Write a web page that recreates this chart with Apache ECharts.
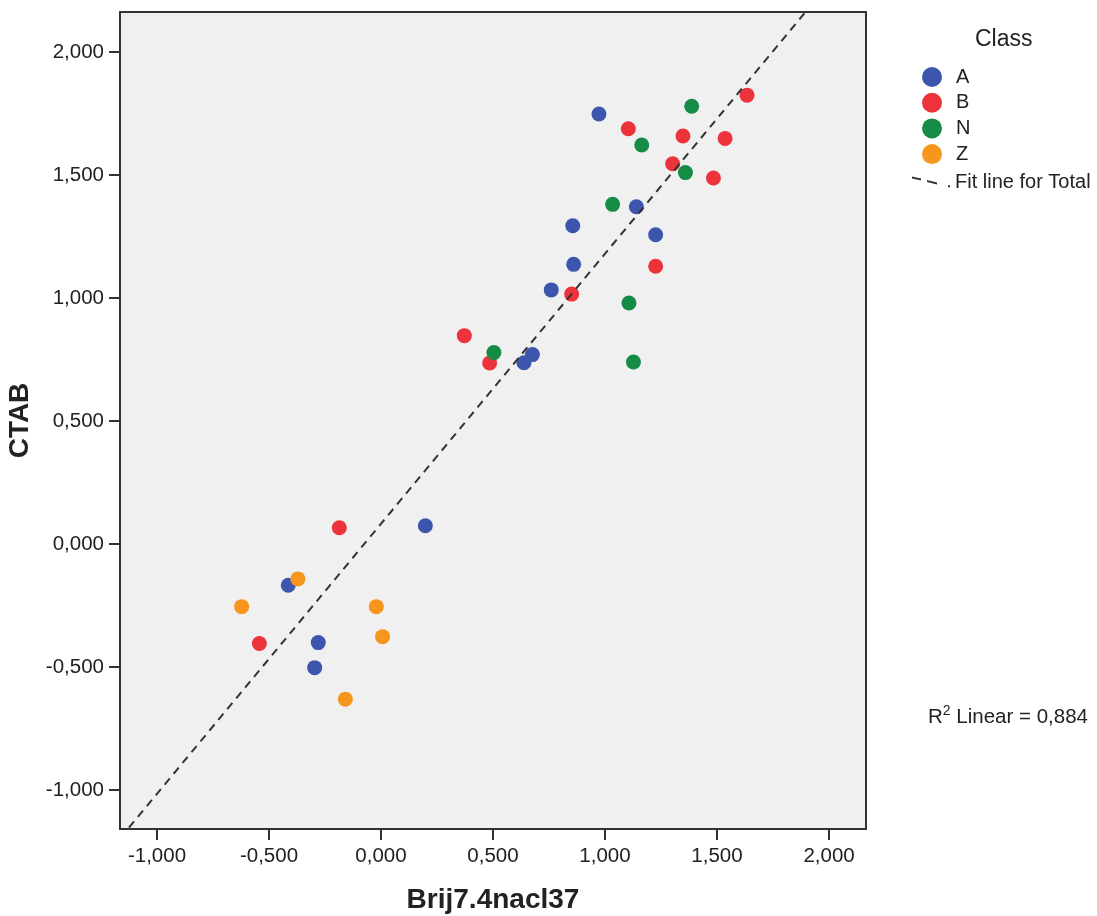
<!DOCTYPE html>
<html>
<head>
<meta charset="utf-8">
<title>CTAB vs Brij7.4nacl37</title>
<script src="https://cdn.jsdelivr.net/npm/echarts@6/dist/echarts.min.js"></script>
<style>
  html, body { margin: 0; padding: 0; background: #ffffff; }
  #chart { width: 1097px; height: 916px; }
</style>
</head>
<body>
<div id="chart"></div>
<script>
// Tick positions shared by both axes
const tickValues = [-1, -0.5, 0, 0.5, 1, 1.5, 2];

// Points per class: [Brij7.4nacl37, CTAB]
const classA = [
  [0.973, 1.748], [1.140, 1.371], [0.856, 1.294], [1.226, 1.257],
  [0.860, 1.137], [0.760, 1.033], [0.676, 0.770], [0.638, 0.737],
  [0.198, 0.074], [-0.414, -0.168], [-0.280, -0.401], [-0.296, -0.503]
];
const classB = [
  [1.104, 1.688], [1.634, 1.825], [1.348, 1.659], [1.536, 1.649],
  [1.302, 1.546], [1.484, 1.488], [1.226, 1.129], [0.851, 1.016],
  [0.372, 0.847], [0.485, 0.736], [-0.186, 0.066], [-0.543, -0.405]
];
const classN = [
  [1.387, 1.780], [1.164, 1.622], [1.359, 1.510], [1.034, 1.381],
  [1.107, 0.980], [0.504, 0.778], [1.127, 0.740]
];
const classZ = [
  [-0.371, -0.142], [-0.622, -0.255], [-0.021, -0.255],
  [0.007, -0.377], [-0.159, -0.631]
];
const r2Text = '0,884';

const xRange = [-1.165, 2.165];
const yRange = [-1.159, 2.163];

const colors = { A: '#3d56ad', B: '#ec333b', N: '#148c45', Z: '#f7961e' };
const FONT = '"Liberation Sans", Arial, sans-serif';
const TEXT = '#222222';

// Least-squares fit over all classes
const all = classA.concat(classB, classN, classZ);
const n = all.length;
const mx = all.reduce((s, p) => s + p[0], 0) / n;
const my = all.reduce((s, p) => s + p[1], 0) / n;
let sxy = 0, sxx = 0;
all.forEach(p => { sxy += (p[0] - mx) * (p[1] - my); sxx += (p[0] - mx) * (p[0] - mx); });
const slope = sxy / sxx;
const intercept = my - slope * mx;
const fitLine = [
  [xRange[0], intercept + slope * xRange[0]],
  [xRange[1], intercept + slope * xRange[1]]
];

const fmt = v => (Math.abs(v) < 1e-9 ? 0 : v).toFixed(3).replace('.', ',');

function scatter(name, data) {
  return {
    name, type: 'scatter', data, symbol: 'circle', symbolSize: 15,
    itemStyle: { color: colors[name], opacity: 1 },
    emphasis: { disabled: true }
  };
}

const axisCommon = {
  type: 'value',
  axisLine: { show: true, onZero: false, lineStyle: { color: '#333', width: 2 } },
  axisTick: { show: true, inside: false, length: 11, lineStyle: { color: '#333', width: 2 }, customValues: tickValues },
  axisLabel: { color: TEXT, fontSize: 20.5, fontFamily: FONT, formatter: fmt, customValues: tickValues },
  splitLine: { show: false },
  nameLocation: 'middle',
  nameTextStyle: { color: TEXT, fontSize: 28, fontWeight: 'bold', fontFamily: FONT }
};

const chart = echarts.init(document.getElementById('chart'), null, { renderer: 'canvas' });
chart.setOption({
  animation: false,
  backgroundColor: '#ffffff',
  grid: {
    left: 120, right: 231, top: 12, bottom: 87,
    show: true, backgroundColor: '#f0f0f0', borderColor: '#333', borderWidth: 2,
    containLabel: false, outerBoundsMode: 'none'
  },
  xAxis: Object.assign({}, axisCommon, {
    min: xRange[0], max: xRange[1],
    name: 'Brij7.4nacl37', nameGap: 57,
    axisLabel: Object.assign({}, axisCommon.axisLabel, { margin: 17 })
  }),
  yAxis: Object.assign({}, axisCommon, {
    min: yRange[0], max: yRange[1],
    name: 'CTAB', nameGap: 86,
    axisLabel: Object.assign({}, axisCommon.axisLabel, { margin: 16 })
  }),
  legend: [
    {
      orient: 'vertical', left: 922, top: 67, padding: 0,
      data: ['A', 'B', 'N', 'Z'], icon: 'circle',
      itemWidth: 20, itemHeight: 20, itemGap: 5.7,
      textStyle: { color: TEXT, fontSize: 20, fontFamily: FONT, lineHeight: 20, padding: [0, 0, 0, 9] },
      selectedMode: false
    },
    {
      orient: 'vertical', left: 912, top: 172, padding: 0,
      data: [{
        name: 'Fit line for Total',
        icon: 'path://M0,0L9,2L9,4L0,2Z M15,3.5L25,6L25,8L15,5.5Z M36,8.5L38,9L38,11L36,10.5Z',
        itemStyle: { color: '#333' }
      }],
      itemWidth: 38, itemHeight: 11, itemGap: 0,
      textStyle: { color: TEXT, fontSize: 20, fontFamily: FONT, lineHeight: 20 },
      selectedMode: false
    }
  ],
  series: [
    scatter('A', classA),
    scatter('B', classB),
    scatter('N', classN),
    scatter('Z', classZ),
    {
      name: 'Fit line for Total', type: 'line', data: fitLine,
      symbol: 'none', clip: true, z: 5,
      itemStyle: { color: '#333' },
      lineStyle: { color: '#333', width: 2, type: [8, 6] },
      emphasis: { disabled: true }
    }
  ],
  graphic: [
    {
      type: 'text', left: 975, top: 28,
      style: { text: 'Class', fill: TEXT, fontSize: 23, fontFamily: FONT }
    },
    {
      type: 'text', left: 928, top: 704,
      style: {
        text: '{r|R}{s|2}{t| Linear = ' + r2Text + '}',
        rich: {
          r: { fontSize: 20.5, fontFamily: FONT, fill: TEXT, lineHeight: 24, verticalAlign: 'bottom' },
          s: { fontSize: 14, fontFamily: FONT, fill: TEXT, lineHeight: 24, verticalAlign: 'top' },
          t: { fontSize: 20.5, fontFamily: FONT, fill: TEXT, lineHeight: 24, verticalAlign: 'bottom' }
        }
      }
    }
  ]
});
</script>
</body>
</html>
